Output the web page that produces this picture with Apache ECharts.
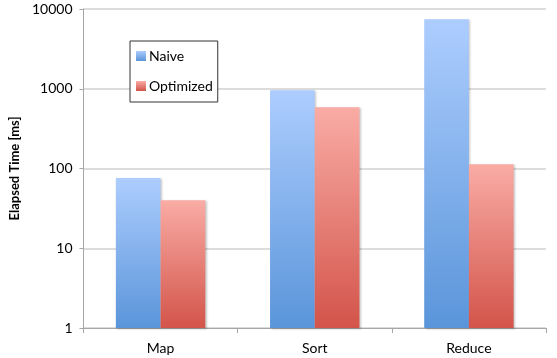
<!DOCTYPE html>
<html>
<head>
<meta charset="utf-8">
<script src="https://cdn.jsdelivr.net/npm/echarts@6/dist/echarts.min.js"></script>
<style>
  html, body { margin: 0; padding: 0; background: #fff; }
  #chart { width: 557px; height: 358px; }
</style>
</head>
<body>
<div id="chart"></div>
<script>
// Elapsed time per phase, naive vs optimized (log scale)
const categories = ['Map', 'Sort', 'Reduce'];
const naiveValues = [76, 955, 7450];
const optimizedValues = [40, 585, 113];
const seriesNames = ['Naive', 'Optimized'];

const FONT = 'Lato, "Open Sans", sans-serif';

function vgrad(top, bottom) {
  return new echarts.graphic.LinearGradient(0, 0, 0, 1, [
    { offset: 0, color: top },
    { offset: 1, color: bottom }
  ]);
}

const barShadow = {
  shadowColor: 'rgba(0,0,0,0.22)',
  shadowBlur: 2,
  shadowOffsetX: 1.5,
  shadowOffsetY: 0.5
};

const chart = echarts.init(document.getElementById('chart'), null, { renderer: 'canvas' });

chart.setOption({
  animation: false,
  backgroundColor: '#ffffff',
  textStyle: { fontFamily: FONT },
  grid: { left: 81, right: 11, top: 9, bottom: 30, containLabel: false },
  legend: {
    orient: 'vertical',
    left: 130,
    top: 41,
    padding: [7, 5, 8, 6],
    itemGap: 14,
    itemWidth: 10,
    itemHeight: 10,
    borderColor: '#333333',
    borderWidth: 1,
    borderRadius: 0,
    backgroundColor: '#ffffff',
    icon: 'rect',
    textStyle: { fontFamily: FONT, fontSize: 14, lineHeight: 16, color: '#000', padding: [0, 0, 0, -2] },
    data: seriesNames
  },
  xAxis: {
    type: 'category',
    data: categories,
    axisLine: { lineStyle: { color: '#a6a6a6', width: 1 } },
    axisTick: { show: true, length: 5, lineStyle: { color: '#a6a6a6' } },
    axisLabel: { color: '#000', fontSize: 14, margin: 13, fontFamily: FONT },
    splitLine: { show: false }
  },
  yAxis: {
    type: 'log',
    logBase: 10,
    min: 1,
    max: 10000,
    name: 'Elapsed Time [ms]',
    nameLocation: 'middle',
    nameGap: 59,
    nameTextStyle: { fontSize: 13, fontWeight: 'bold', color: '#000', fontFamily: FONT },
    axisLine: { show: true, lineStyle: { color: '#a6a6a6', width: 1 } },
    axisTick: { show: true, length: 4, inside: false, lineStyle: { color: '#a6a6a6' } },
    minorTick: { show: false },
    axisLabel: {
      color: '#000', fontSize: 14, margin: 11, fontFamily: FONT,
      formatter: function (v) { return String(Math.round(v)); }
    },
    splitLine: { show: true, lineStyle: { color: '#d0d0d0', width: 1.5 } }
  },
  series: [
    {
      name: seriesNames[0],
      type: 'bar',
      data: naiveValues,
      barGap: '0%',
      barCategoryGap: '42%',
      itemStyle: Object.assign({ color: vgrad('#adcdfe', '#5a95da') }, barShadow)
    },
    {
      name: seriesNames[1],
      type: 'bar',
      data: optimizedValues,
      barGap: '0%',
      barCategoryGap: '42%',
      itemStyle: Object.assign({ color: vgrad('#f9aca5', '#d3544a') }, barShadow)
    }
  ]
});
</script>
</body>
</html>
